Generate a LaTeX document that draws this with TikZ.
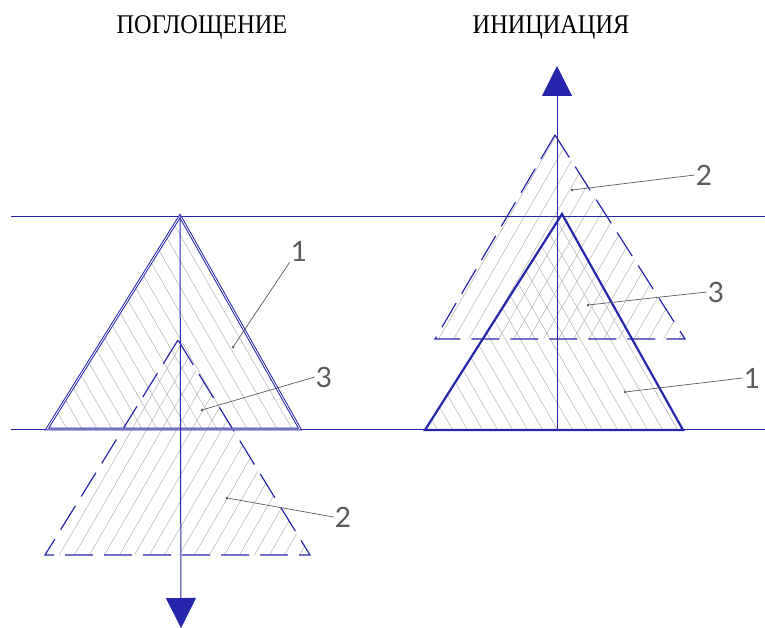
\documentclass[tikz,border=0pt]{standalone}
\usepackage{fontspec}
\setmainfont{Liberation Serif}
\setsansfont{Lato}
\usetikzlibrary{arrows.meta}
\definecolor{penblue}{RGB}{38,38,172}
\definecolor{leadgray}{RGB}{90,90,90}

\begin{document}
\begin{tikzpicture}[
    x=1pt, y=-1pt,
    % Pen line styles
    level line/.style={penblue, line width=0.9pt},
    solid tri/.style={penblue, line width=1pt, double=white, double distance=0.8pt, line join=miter},
    bold tri/.style={penblue, line width=2.2pt, line join=miter},
    dash tri/.style={penblue, line width=1.2pt, dash pattern=on 28pt off 11pt},
    axis arrow/.style={penblue, line width=1pt, -{Triangle[length=30pt,width=30pt]}},
    % Hatching
    hatch/.style={gray!60, line width=0.5pt},
    % Titles and numbers
    title/.style={font=\fontsize{27}{30}\selectfont, xscale=0.9, inner sep=0pt},
    number/.style={font=\sffamily\fontsize{28}{30}\selectfont, text=leadgray, inner sep=1pt},
    leader/.style={leadgray, line width=0.7pt},
    dot/.style={circle, fill=leadgray, inner sep=0pt, minimum size=3pt}
]
\useasboundingbox (0,0) rectangle (765,628);

% --- Titles ---
\node[title] (absorb) at (202,27) {ПОГЛОЩЕНИЕ};
\node[title] (init) at (551,27) {ИНИЦИАЦИЯ};

% --- Triangle corners ---
% Left: absorption
\coordinate (la1) at (180,216); \coordinate (lb1) at (47,429);  \coordinate (lc1) at (300,429);
\coordinate (la2) at (178,340); \coordinate (lb2) at (45,555);  \coordinate (lc2) at (310,555);
% Right: initiation
\coordinate (ra1) at (562,214); \coordinate (rb1) at (425,430); \coordinate (rc1) at (683,430);
\coordinate (ra2) at (555,135); \coordinate (rb2) at (435,339); \coordinate (rc2) at (685,339);

% --- Hatching ---
\begin{scope}
  \clip (la1) -- (lb1) -- (lc1) -- cycle;
  \foreach \k in {-200,-185,...,320} \draw[hatch] (\k,200) -- ++(150,260);
\end{scope}
\begin{scope}
  \clip (la2) -- (lb2) -- (lc2) -- cycle;
  \foreach \k in {0,15,...,560} \draw[hatch] (\k,320) -- ++(-150,260);
\end{scope}
\begin{scope}
  \clip (ra1) -- (rb1) -- (rc1) -- cycle;
  \foreach \k in {200,215,...,720} \draw[hatch] (\k,200) -- ++(150,260);
\end{scope}
\begin{scope}
  \clip (ra2) -- (rb2) -- (rc2) -- cycle;
  \foreach \k in {400,415,...,960} \draw[hatch] (\k,120) -- ++(-150,260);
\end{scope}

% --- Levels ---
\coordinate (topL) at (11,216);  \coordinate (topR) at (765,216);
\coordinate (botL) at (11,429);  \coordinate (botR) at (765,429);
\draw[level line] (topL) -- (topR);
\draw[level line] (botL) -- (botR);

% --- Triangles ---
\draw[dash tri] (la2) -- (lb2) -- (lc2) -- cycle;
\draw[dash tri] (ra2) -- (rb2) -- (rc2) -- cycle;
\draw[solid tri] (la1) -- (lb1) -- (lc1) -- cycle;
\draw[bold tri] (ra1) -- (rb1) -- (rc1) -- cycle;

% --- Axes ---
\coordinate (ldown) at (181,628);
\coordinate (rfoot) at (557,430);
\coordinate (rup) at (557,66);
\draw[axis arrow] (la1) -- (ldown);
\draw[axis arrow] (rfoot) -- (rup);

% --- Numbers with leaders ---
\node[dot] (l1dot) at (233,347) {};
\node[number] (l1num) at (299,251) {1};
\draw[leader] (l1dot) -- (l1num.south west);
\node[dot] (l3dot) at (202,410) {};
\node[number] (l3num) at (324,377) {3};
\draw[leader] (l3dot) -- (l3num.west);
\node[dot] (l2dot) at (227,498) {};
\node[number] (l2num) at (343,517) {2};
\draw[leader] (l2dot) -- (l2num.west);

\node[dot] (r2dot) at (572,190) {};
\node[number] (r2num) at (704,175) {2};
\draw[leader] (r2dot) -- (r2num.west);
\node[dot] (r3dot) at (588,305) {};
\node[number] (r3num) at (716,292) {3};
\draw[leader] (r3dot) -- (r3num.west);
\node[dot] (r1dot) at (625,392) {};
\node[number] (r1num) at (752,378) {1};
\draw[leader] (r1dot) -- (r1num.west);

\end{tikzpicture}
\end{document}
